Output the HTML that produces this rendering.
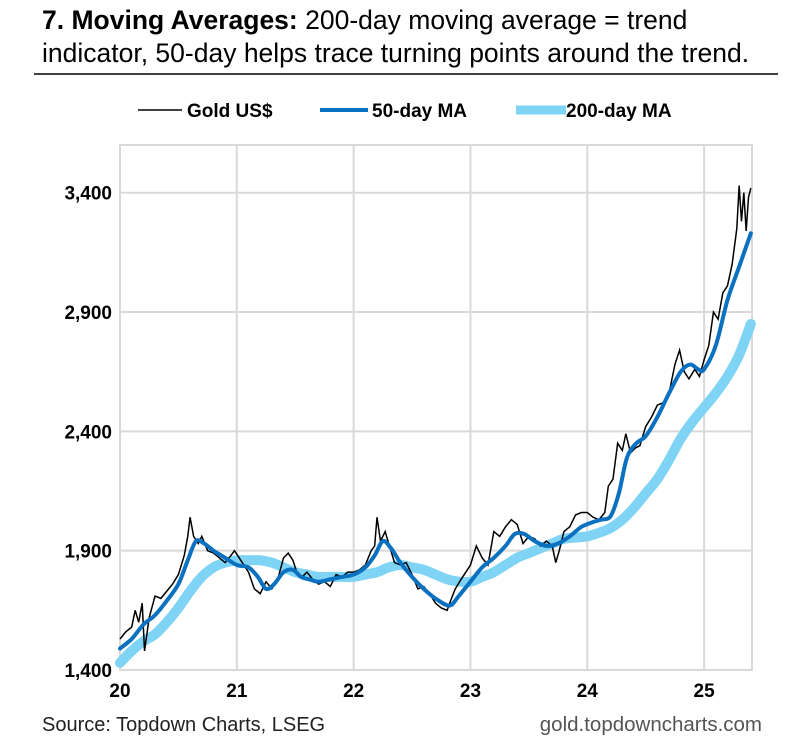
<!DOCTYPE html>
<html><head><meta charset="utf-8"><style>
body{margin:0;background:#fff;width:800px;height:737px;overflow:hidden;font-family:"Liberation Sans",Arial,sans-serif}
</style></head><body>
<svg width="800" height="737" xmlns="http://www.w3.org/2000/svg">
<text x="42" y="29" font-size="26.5" fill="#000"><tspan font-weight="bold">7. Moving Averages:</tspan> 200-day moving average = trend</text>
<text x="42" y="62" font-size="26.5" fill="#000">indicator, 50-day helps trace turning points around the trend.</text>
<line x1="34" y1="74" x2="778" y2="74" stroke="#000" stroke-width="1.5"/>
<g id="legend" font-size="19" font-weight="bold">
<line x1="138" y1="110" x2="182" y2="110" stroke="#000" stroke-width="1.5"/>
<text x="187" y="117">Gold US$</text>
<line x1="320" y1="110" x2="368" y2="110" stroke="#0a70c0" stroke-width="4"/>
<text x="372" y="117">50-day MA</text>
<line x1="516" y1="110" x2="566" y2="110" stroke="#7fd4f5" stroke-width="9"/>
<text x="566" y="117">200-day MA</text>
</g>
<g id="grid"></g><g id="series"></g><g id="axes"></g>
<text x="42" y="731" font-size="20" fill="#222">Source: Topdown Charts, LSEG</text>
<text x="762" y="731" font-size="20.5" fill="#555" text-anchor="end">gold.topdowncharts.com</text>
</svg>
<script>
const goldT=[2020.0,2020.05,2020.1,2020.13,2020.16,2020.19,2020.21,2020.25,2020.3,2020.35,2020.4,2020.45,2020.5,2020.55,2020.58,2020.6,2020.63,2020.67,2020.7,2020.75,2020.8,2020.85,2020.9,2020.95,2020.98,2021.02,2021.06,2021.1,2021.15,2021.2,2021.25,2021.3,2021.35,2021.4,2021.44,2021.48,2021.52,2021.56,2021.6,2021.65,2021.7,2021.75,2021.8,2021.85,2021.9,2021.95,2022.0,2022.05,2022.1,2022.15,2022.18,2022.2,2022.23,2022.27,2022.3,2022.35,2022.4,2022.45,2022.5,2022.55,2022.6,2022.65,2022.7,2022.75,2022.8,2022.83,2022.87,2022.92,2022.96,2023.0,2023.05,2023.1,2023.15,2023.2,2023.25,2023.3,2023.35,2023.4,2023.45,2023.5,2023.55,2023.6,2023.65,2023.7,2023.73,2023.76,2023.8,2023.85,2023.9,2023.95,2024.0,2024.05,2024.1,2024.15,2024.18,2024.22,2024.26,2024.3,2024.33,2024.37,2024.41,2024.45,2024.5,2024.55,2024.6,2024.65,2024.7,2024.75,2024.79,2024.83,2024.87,2024.92,2024.96,2025.0,2025.04,2025.08,2025.12,2025.16,2025.2,2025.24,2025.28,2025.3,2025.32,2025.34,2025.36,2025.38,2025.4];
const goldV=[1530,1560,1580,1650,1600,1680,1480,1620,1710,1700,1730,1760,1800,1880,1960,2040,1960,1930,1960,1900,1890,1870,1850,1880,1900,1870,1840,1810,1740,1720,1770,1740,1780,1870,1890,1860,1800,1790,1810,1780,1760,1770,1750,1800,1790,1810,1810,1820,1840,1900,1920,2040,1940,1980,1930,1850,1840,1850,1800,1740,1750,1720,1680,1660,1650,1690,1740,1780,1810,1840,1920,1870,1840,1980,1960,2000,2030,2010,1930,1960,1950,1920,1940,1920,1850,1900,1980,2000,2050,2060,2060,2040,2030,2060,2170,2200,2350,2320,2390,2310,2330,2340,2420,2460,2510,2520,2560,2680,2740,2650,2620,2660,2630,2700,2760,2900,2870,2980,3010,3100,3250,3430,3280,3400,3240,3380,3420];
const ma50T=[2020.0,2020.1,2020.2,2020.3,2020.4,2020.5,2020.58,2020.65,2020.72,2020.8,2020.9,2021.0,2021.1,2021.18,2021.25,2021.32,2021.4,2021.48,2021.55,2021.62,2021.7,2021.8,2021.9,2022.0,2022.1,2022.18,2022.25,2022.32,2022.4,2022.5,2022.6,2022.7,2022.82,2022.9,2023.0,2023.1,2023.2,2023.3,2023.38,2023.46,2023.55,2023.65,2023.75,2023.85,2023.95,2024.05,2024.12,2024.2,2024.27,2024.34,2024.42,2024.5,2024.6,2024.7,2024.8,2024.88,2024.95,2025.0,2025.1,2025.2,2025.3,2025.4];
const ma50V=[1490,1530,1590,1630,1690,1760,1860,1940,1930,1900,1870,1840,1830,1790,1740,1760,1810,1820,1790,1780,1770,1780,1790,1800,1830,1880,1940,1910,1850,1790,1740,1700,1670,1710,1770,1830,1870,1920,1970,1970,1940,1920,1930,1960,2000,2020,2030,2045,2140,2290,2350,2380,2460,2560,2650,2680,2660,2660,2760,2950,3090,3230];
const ma200T=[2020.0,2020.1,2020.2,2020.3,2020.4,2020.5,2020.6,2020.7,2020.8,2020.9,2021.0,2021.1,2021.2,2021.3,2021.4,2021.5,2021.6,2021.7,2021.8,2021.9,2022.0,2022.1,2022.2,2022.3,2022.4,2022.5,2022.6,2022.7,2022.8,2022.9,2023.0,2023.1,2023.2,2023.3,2023.4,2023.5,2023.6,2023.7,2023.8,2023.9,2024.0,2024.1,2024.2,2024.3,2024.4,2024.5,2024.6,2024.7,2024.8,2024.9,2025.0,2025.1,2025.2,2025.3,2025.4];
const ma200V=[1430,1480,1520,1550,1600,1660,1730,1790,1830,1850,1860,1860,1860,1850,1830,1810,1800,1790,1790,1790,1790,1800,1810,1830,1840,1830,1820,1800,1780,1770,1770,1790,1810,1840,1870,1890,1910,1930,1950,1955,1960,1975,1995,2030,2080,2140,2200,2280,2370,2440,2500,2560,2630,2720,2850];
const yTicks=[1400,1900,2400,2900,3400];
const xTicks=[2020,2021,2022,2023,2024,2025];
const xLabels=["20","21","22","23","24","25"];
const L=120,R=752,T=145,B=670,X0=2020,X1=2025.41,Y0=1400,Y1=3600;
const NS="http://www.w3.org/2000/svg";
const xs=t=>L+(t-X0)/(X1-X0)*(R-L);
const ys=v=>B-(v-Y0)/(Y1-Y0)*(B-T);
function mk(tag,attrs,parent){const e=document.createElementNS(NS,tag);for(const k in attrs)e.setAttribute(k,attrs[k]);parent.appendChild(e);return e;}
const grid=document.getElementById('grid'),ser=document.getElementById('series'),ax=document.getElementById('axes');
yTicks.forEach(v=>{const l=mk('line',{x1:L,x2:R,y1:ys(v),y2:ys(v),stroke:'#d9d9d9','stroke-width':2},grid);


const t=mk('text',{x:L-8,y:ys(v)+7,'text-anchor':'end','font-size':19,'font-weight':'bold'},ax);t.textContent=v.toLocaleString('en-US');

});
xTicks.forEach((v,i)=>{const l=mk('line',{x1:xs(v),x2:xs(v),y1:T,y2:B,stroke:'#d9d9d9','stroke-width':2},grid);


const t=mk('text',{x:xs(v),y:B+27,'text-anchor':'middle','font-size':19,'font-weight':'bold'},ax);t.textContent=xLabels[i];

});
const frame=mk('rect',{x:L,y:T,width:R-L,height:B-T,fill:'none',stroke:'#d9d9d9','stroke-width':2},grid);


function smooth(T_,V){const p=T_.map((t,i)=>[xs(t),ys(V[i])]);let d='M'+p[0][0]+','+p[0][1];
for(let i=0;i<p.length-1;i++){const p0=p[i-1]||p[i],p1=p[i],p2=p[i+1],p3=p[i+2]||p2;
d+=` C${p1[0]+(p2[0]-p0[0])/6},${p1[1]+(p2[1]-p0[1])/6} ${p2[0]-(p3[0]-p1[0])/6},${p2[1]-(p3[1]-p1[1])/6} ${p2[0]},${p2[1]}`;}return d;}
const s200=mk('path',{d:smooth(ma200T,ma200V),fill:'none',stroke:'#7fd4f5','stroke-width':10,'stroke-linecap':'round'},ser);


const g=mk('polyline',{points:goldT.map((t,i)=>xs(t)+','+ys(goldV[i])).join(' '),fill:'none',stroke:'#000','stroke-width':1.5},ser);


const s50=mk('path',{d:smooth(ma50T,ma50V),fill:'none',stroke:'#0a70c0','stroke-width':4,'stroke-linecap':'round'},ser);


</script>
</body></html>
